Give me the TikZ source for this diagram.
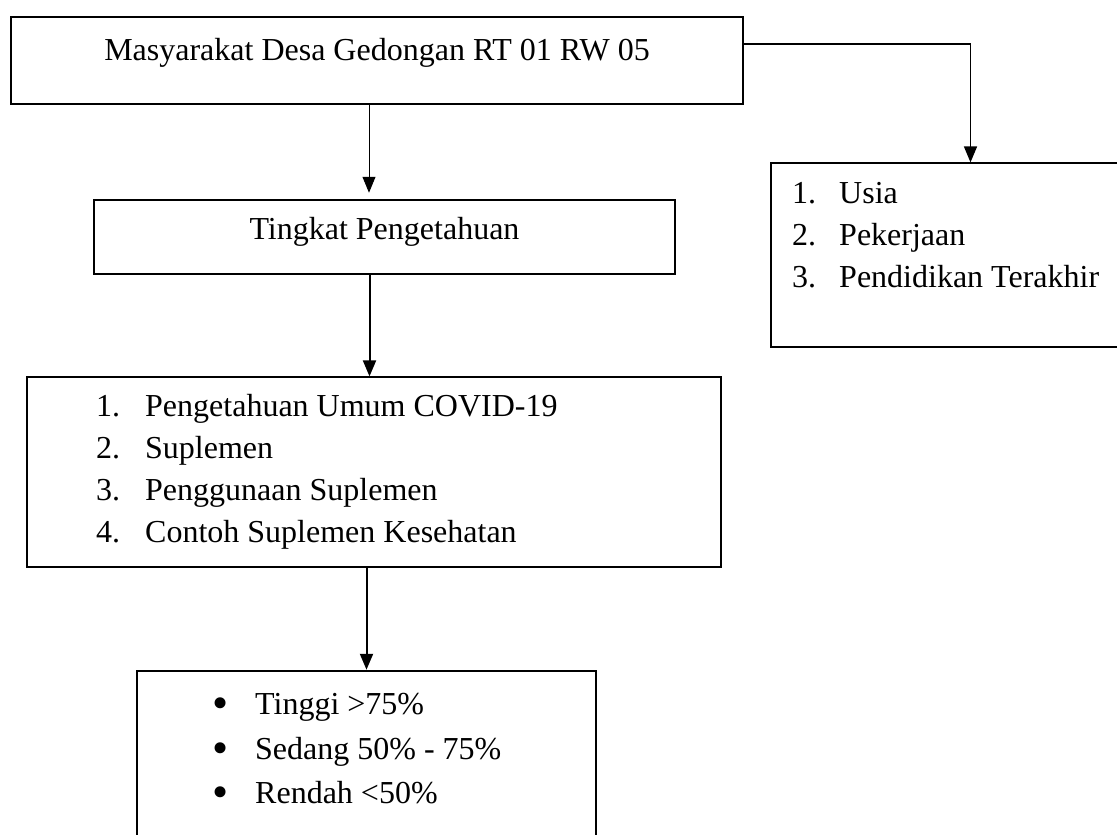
\documentclass[tikz,border=0pt]{standalone}
\usepackage{fontspec}
\setmainfont{Liberation Serif}
\usetikzlibrary{arrows.meta}
\begin{document}
\begin{tikzpicture}[x=1pt, y=-1pt, every node/.style = {inner sep=0pt, font=\fontsize{32}{38}\selectfont}, >={Triangle[length=16pt, width=13pt]}]
	\tikzstyle{tebal} = [draw, line width=2.5pt]
	\tikzstyle{tipis} = [draw, line width=1.2pt]
	\tikzstyle{isi} = [anchor=base west]
	\tikzstyle{panah} = [->, line width=1pt]
	\clip (0,0) rectangle (1117,835);
	% kotak
	\node[tebal, minimum width=732pt, minimum height=87pt] (masyarakat) at (377,60.5) {};
	\node[tebal, minimum width=581pt, minimum height=74pt] (tingkat) at (384.5,237) {};
	\node[tipis, minimum width=694pt, minimum height=190pt] (materi) at (374,472) {};
	\node[tebal, minimum width=459pt, minimum height=189pt] (kategori) at (366.5,765.5) {};
	\node[tipis, minimum width=369pt, minimum height=184pt] (karakteristik) at (955.5,255) {};
	% teks
	\node[anchor=base] (judul) at (377,60) {Masyarakat Desa Gedongan RT 01 RW 05};
	\node[anchor=base] (judul-tingkat) at (384.5,239) {Tingkat Pengetahuan};
	\foreach \teks [count=\i] in {Pengetahuan Umum COVID-19, Suplemen, Penggunaan Suplemen, Contoh Suplemen Kesehatan} {
		\node[isi] (no-materi\i) at (96,{374+42*\i}) {\i.};
		\node[isi] (materi\i) at (145,{374+42*\i}) {\teks};
	}
	\foreach \teks [count=\i] in {Tinggi >75\%, Sedang 50\% - 75\%, Rendah <50\%} {
		\node[isi] (titik\i) at (212,{670+44.5*\i}) {\raisebox{-4pt}{\fontsize{46}{46}\selectfont •}};
		\node[isi] (kategori\i) at (255,{670+44.5*\i}) {\teks};
	}
	\foreach \teks [count=\i] in {Usia, Pekerjaan, Pendidikan Terakhir} {
		\node[isi] (no-karakter\i) at (792,{161+42*\i}) {\i.};
		\node[isi] (karakter\i) at (839,{161+42*\i}) {\teks};
	}
	% panah
	\draw[panah, shorten >=6pt] ([xshift=-8pt]masyarakat.south) -- ([xshift=-8pt]masyarakat.south |- tingkat.north);
	\draw[panah, line width=2pt] ([xshift=-15pt]tingkat.south) -- ([xshift=-15pt]tingkat.south |- materi.north);
	\draw[panah, line width=2pt] (kategori.north |- materi.south) -- (kategori.north);
	\draw[panah, line width=1.5pt] ([yshift=16.5pt]masyarakat.east) -| ([xshift=15pt]karakteristik.north);
\end{tikzpicture}
\end{document}
